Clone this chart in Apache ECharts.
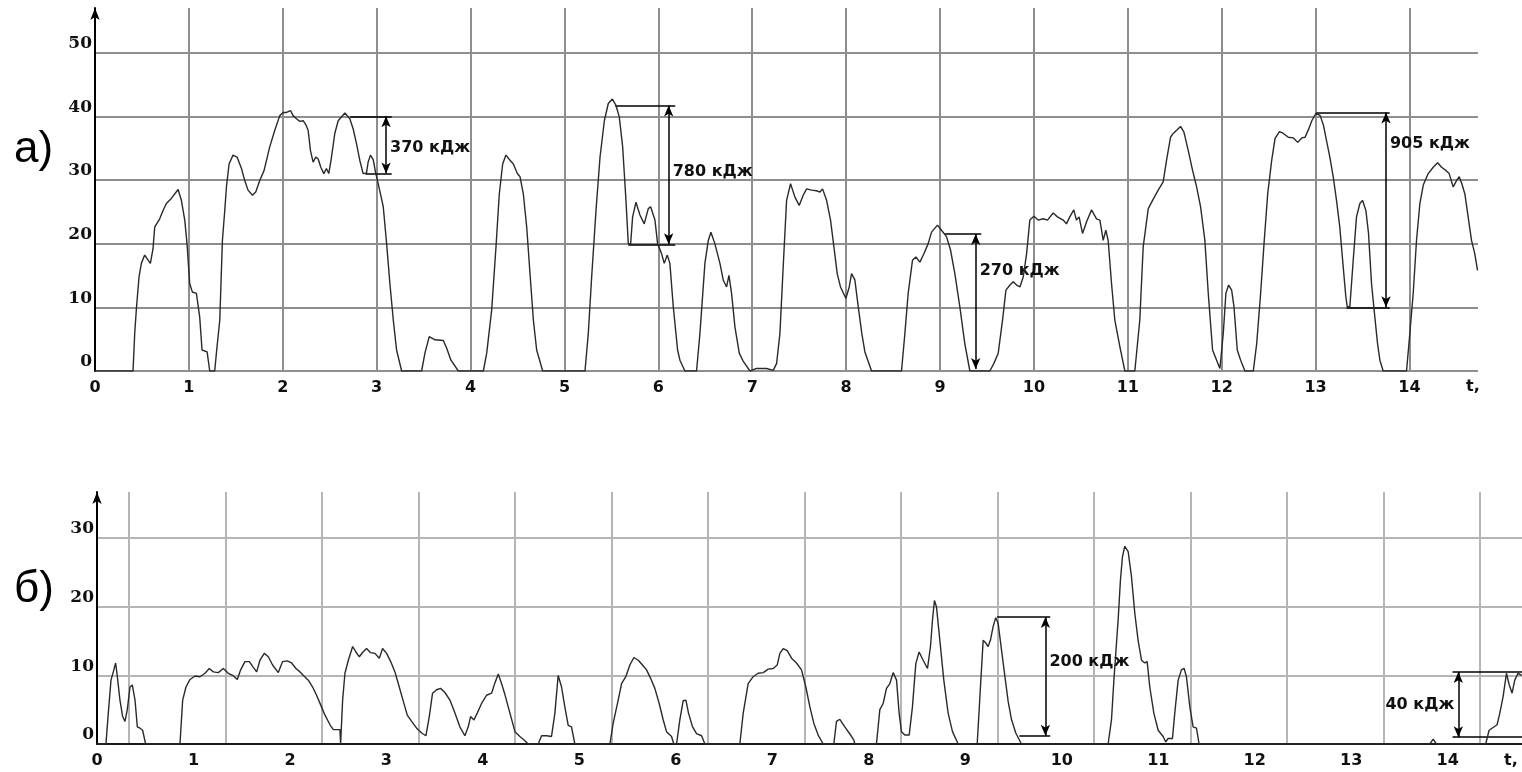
<!DOCTYPE html>
<html>
<head>
<meta charset="utf-8">
<script src="https://cdn.jsdelivr.net/npm/echarts@6/dist/echarts.min.js"></script>
<style>
html,body{margin:0;padding:0;background:#fff;}
#chart{width:1522px;height:772px;}
</style>
</head>
<body>
<div id="chart"></div>
<script>
// ---- data ----
const timeTicks = [0,1,2,3,4,5,6,7,8,9,10,11,12,13,14];
const topValueTicks = [0,10,20,30,40,50];
const bottomValueTicks = [0,10,20,30];
const panelLabels = ['a)', 'б)'];
const timeUnitLabel = 't,';

// panel a) curve: [t, value]
const topCurve = [[0,0],[0.405,0],[0.423,5.9],[0.44,9.6],[0.469,14.8],[0.494,16.9],[0.529,18.2],[0.59,16.9],[0.618,19.2],[0.636,22.6],[0.689,23.9],[0.725,25.2],[0.76,26.3],[0.813,27.1],[0.885,28.5],[0.92,26.8],[0.956,23.7],[0.98,20.0],[1.009,13.7],[1.037,12.4],[1.08,12.2],[1.115,8.5],[1.14,3.3],[1.194,3.0],[1.222,0],[1.275,0],[1.293,2.8],[1.329,8.0],[1.357,20.5],[1.382,25.2],[1.4,28.9],[1.428,32.5],[1.47,33.9],[1.513,33.6],[1.56,31.8],[1.595,29.9],[1.63,28.4],[1.677,27.6],[1.712,28.1],[1.755,29.9],[1.801,31.5],[1.861,35.2],[1.915,37.8],[1.968,40.1],[2.004,40.6],[2.04,40.6],[2.082,40.9],[2.11,40.1],[2.146,39.6],[2.181,39.2],[2.217,39.3],[2.245,38.7],[2.27,37.8],[2.295,34.6],[2.323,32.8],[2.352,33.6],[2.377,33.3],[2.405,32.0],[2.437,31.0],[2.465,31.8],[2.49,31.0],[2.519,33.6],[2.554,37.3],[2.59,39.3],[2.661,40.5],[2.714,39.6],[2.75,38.0],[2.785,35.7],[2.82,33.1],[2.856,31.0],[2.892,31.1],[2.909,32.8],[2.934,33.9],[2.963,33.2],[2.988,31.2],[3.009,29.9],[3.07,25.8],[3.106,20.0],[3.141,13.7],[3.177,8.0],[3.212,3.3],[3.266,0],[3.479,0],[3.514,2.8],[3.56,5.4],[3.621,4.9],[3.71,4.8],[3.745,3.6],[3.791,1.7],[3.87,0],[4.136,0],[4.172,2.8],[4.225,9.6],[4.271,19.5],[4.306,27.8],[4.342,32.5],[4.377,33.9],[4.42,33.1],[4.456,32.5],[4.498,31.0],[4.527,30.5],[4.562,27.8],[4.598,22.6],[4.633,15.3],[4.669,8.0],[4.704,3.3],[4.768,0],[5.219,0],[5.254,5.9],[5.29,14.8],[5.336,25.2],[5.379,33.6],[5.425,39.3],[5.467,42.0],[5.51,42.7],[5.549,41.7],[5.584,39.9],[5.62,35.2],[5.655,26.8],[5.68,20.0],[5.705,20.0],[5.726,24.2],[5.762,26.5],[5.804,24.5],[5.85,23.1],[5.893,25.5],[5.918,25.8],[5.964,23.7],[5.992,20.0],[6.035,18.4],[6.063,16.9],[6.095,18.2],[6.123,16.9],[6.159,10.1],[6.205,3.3],[6.23,1.7],[6.283,0],[6.407,0],[6.443,5.9],[6.496,16.9],[6.532,20.5],[6.56,21.8],[6.602,20.0],[6.656,16.9],[6.691,14.3],[6.727,13.2],[6.752,15.0],[6.78,12.2],[6.816,6.9],[6.862,2.8],[6.905,1.5],[6.976,0],[7.046,0.4],[7.153,0.4],[7.224,0.1],[7.26,1.2],[7.295,5.9],[7.33,16.4],[7.366,26.8],[7.408,29.4],[7.455,27.3],[7.5,26.0],[7.543,27.6],[7.579,28.6],[7.632,28.4],[7.685,28.3],[7.721,28.1],[7.749,28.6],[7.792,26.8],[7.834,23.7],[7.87,19.5],[7.905,15.3],[7.94,13.2],[7.998,11.4],[8.033,13.2],[8.058,15.3],[8.093,14.3],[8.129,10.1],[8.167,5.9],[8.2,3.0],[8.271,0],[8.59,0],[8.626,5.9],[8.661,12.2],[8.707,17.4],[8.743,17.9],[8.786,17.1],[8.828,18.4],[8.874,20.0],[8.91,21.8],[8.973,22.9],[9.016,22.1],[9.069,21.1],[9.112,19.0],[9.158,15.3],[9.211,10.1],[9.264,4.3],[9.318,0],[9.531,0],[9.574,1.2],[9.62,2.8],[9.666,8.0],[9.702,12.7],[9.745,13.5],[9.78,14.0],[9.816,13.5],[9.851,13.2],[9.887,14.8],[9.922,18.4],[9.957,23.7],[10.0,24.3],[10.046,23.7],[10.099,23.9],[10.145,23.7],[10.205,24.8],[10.251,24.2],[10.312,23.7],[10.347,23.1],[10.382,24.2],[10.425,25.3],[10.453,23.7],[10.481,24.2],[10.518,21.6],[10.56,23.4],[10.614,25.3],[10.667,23.9],[10.703,23.7],[10.738,20.5],[10.766,22.1],[10.791,20.5],[10.827,13.7],[10.862,8.0],[10.916,3.8],[10.969,0],[11.075,0],[11.128,8.0],[11.164,19.5],[11.218,25.5],[11.271,27.0],[11.324,28.4],[11.377,29.7],[11.413,33.1],[11.455,36.7],[11.484,37.3],[11.52,37.8],[11.562,38.4],[11.598,37.5],[11.644,34.6],[11.69,31.5],[11.733,28.9],[11.775,25.8],[11.821,20.5],[11.857,12.2],[11.903,3.3],[11.946,1.7],[11.981,0.4],[12.017,5.9],[12.045,12.2],[12.074,13.5],[12.106,12.7],[12.131,10.1],[12.166,3.3],[12.202,1.7],[12.248,0],[12.337,0],[12.373,4.3],[12.415,12.2],[12.451,20.0],[12.49,27.8],[12.533,33.1],[12.568,36.5],[12.615,37.6],[12.657,37.3],[12.71,36.7],[12.764,36.6],[12.81,35.9],[12.853,36.6],[12.888,36.7],[12.924,37.9],[12.96,39.3],[13.006,40.5],[13.049,40.1],[13.084,38.6],[13.116,36.2],[13.152,33.6],[13.188,30.5],[13.223,26.8],[13.258,22.6],[13.294,16.4],[13.322,11.7],[13.337,10.1],[13.365,10.1],[13.401,17.4],[13.436,24.2],[13.472,26.3],[13.5,26.8],[13.536,25.2],[13.564,21.6],[13.596,13.7],[13.631,8.5],[13.66,4.3],[13.685,1.7],[13.72,0],[13.969,0],[14.004,5.9],[14.04,12.2],[14.075,20.5],[14.111,26.3],[14.147,29.2],[14.2,31.0],[14.253,32.0],[14.3,32.7],[14.342,32.0],[14.388,31.5],[14.423,31.0],[14.466,28.9],[14.501,29.9],[14.53,30.5],[14.558,29.4],[14.59,27.8],[14.625,24.2],[14.661,20.5],[14.696,18.4],[14.725,15.8]];

// panel б) curve: [t, value]
const bottomCurve = [[0,0],[0.093,0],[0.117,4.5],[0.145,9.3],[0.169,10.5],[0.193,11.8],[0.211,9.8],[0.238,6.4],[0.266,4.0],[0.29,3.3],[0.314,5.0],[0.342,8.3],[0.366,8.6],[0.394,6.4],[0.418,2.5],[0.446,2.3],[0.473,2.0],[0.504,0],[0.86,0],[0.888,6.4],[0.922,8.3],[0.964,9.4],[1.016,9.9],[1.067,9.8],[1.119,10.3],[1.164,11.0],[1.206,10.5],[1.257,10.4],[1.309,11.0],[1.361,10.3],[1.406,10.0],[1.454,9.4],[1.489,10.8],[1.533,12.0],[1.579,12.0],[1.613,11.3],[1.655,10.5],[1.689,12.2],[1.734,13.2],[1.776,12.7],[1.82,11.5],[1.879,10.4],[1.924,12.0],[1.972,12.1],[2.017,11.8],[2.062,11.0],[2.104,10.5],[2.145,9.9],[2.19,9.3],[2.235,8.3],[2.276,7.1],[2.318,5.7],[2.363,4.2],[2.415,2.8],[2.449,2.1],[2.518,2.1],[2.525,0],[2.535,0],[2.546,6.4],[2.57,10.3],[2.605,12.2],[2.65,14.2],[2.684,13.4],[2.719,12.7],[2.757,13.4],[2.794,13.9],[2.836,13.3],[2.881,13.2],[2.926,12.5],[2.96,13.9],[3.002,13.2],[3.044,12.0],[3.088,10.5],[3.133,8.3],[3.175,6.2],[3.216,4.2],[3.261,3.3],[3.313,2.3],[3.365,1.6],[3.409,1.2],[3.444,4.0],[3.478,7.4],[3.52,7.9],[3.561,8.1],[3.606,7.5],[3.658,6.4],[3.71,4.5],[3.761,2.5],[3.813,1.2],[3.848,2.5],[3.872,4.0],[3.907,3.5],[3.941,4.5],[3.986,5.9],[4.038,7.1],[4.09,7.4],[4.124,8.9],[4.159,10.2],[4.193,8.8],[4.228,7.2],[4.28,4.5],[4.332,1.8],[4.383,1.1],[4.418,0.7],[4.47,0],[4.573,0],[4.608,1.2],[4.66,1.2],[4.711,1.1],[4.746,4.5],[4.78,10.0],[4.815,8.3],[4.849,5.4],[4.884,2.7],[4.918,2.5],[4.953,0],[5.316,0],[5.35,3.0],[5.402,6.4],[5.437,8.8],[5.481,9.8],[5.523,11.5],[5.565,12.6],[5.61,12.2],[5.654,11.5],[5.696,10.8],[5.737,9.6],[5.782,8.1],[5.827,5.9],[5.869,3.5],[5.903,1.8],[5.955,1.1],[5.979,0],[6.007,0],[6.041,3.5],[6.076,6.3],[6.104,6.4],[6.131,4.5],[6.173,2.5],[6.214,1.5],[6.266,1.2],[6.301,0],[6.663,0],[6.698,4.5],[6.749,8.8],[6.801,9.8],[6.853,10.3],[6.905,10.4],[6.957,10.9],[7.009,11.0],[7.05,11.5],[7.078,13.2],[7.112,13.9],[7.154,13.6],[7.199,12.5],[7.25,11.8],[7.302,10.8],[7.347,8.3],[7.389,5.4],[7.43,3.0],[7.475,1.3],[7.527,0],[7.637,0],[7.665,3.3],[7.699,3.6],[7.751,2.5],[7.796,1.6],[7.844,0.6],[7.855,0],[8.079,0],[8.114,5.0],[8.148,5.9],[8.183,8.1],[8.218,8.8],[8.252,10.4],[8.287,9.3],[8.314,4.5],[8.338,1.8],[8.373,1.3],[8.418,1.3],[8.452,5.4],[8.487,11.7],[8.521,13.4],[8.563,12.2],[8.608,11.0],[8.639,14.2],[8.66,18.1],[8.68,20.9],[8.701,20.0],[8.736,15.1],[8.777,9.3],[8.822,4.5],[8.867,1.8],[8.926,0],[9.123,0],[9.157,8.3],[9.185,15.1],[9.212,14.7],[9.236,14.2],[9.26,15.1],[9.288,17.1],[9.315,18.4],[9.34,17.6],[9.375,13.7],[9.409,10.0],[9.444,6.2],[9.478,3.6],[9.523,1.6],[9.582,0],[10.48,0],[10.515,3.5],[10.54,9.3],[10.584,18.1],[10.608,23.9],[10.629,27.3],[10.653,28.8],[10.688,28.0],[10.722,24.4],[10.757,19.0],[10.791,15.1],[10.826,12.2],[10.861,11.8],[10.885,12.0],[10.912,8.3],[10.954,4.5],[10.999,2.0],[11.05,1.1],[11.078,0.3],[11.102,0.8],[11.147,0.8],[11.171,4.5],[11.206,9.3],[11.24,10.8],[11.268,11.0],[11.292,9.8],[11.327,5.4],[11.361,2.5],[11.396,2.3],[11.423,0],[13.814,0],[13.849,0.7],[13.883,0],[14.394,0],[14.429,2.0],[14.47,2.4],[14.512,2.8],[14.54,4.5],[14.574,6.9],[14.609,10.3],[14.636,8.7],[14.667,7.4],[14.695,9.3],[14.729,10.3],[14.767,10.0]];

// energy annotations (data units)
const topAnnotations = [
  {text:'370 кДж', arrowX:3.10, top:40.0, bottom:31.0, topFrom:2.72, bottomFrom:2.88, to:3.16, textY:35.1, side:'right'},
  {text:'780 кДж', arrowX:6.11, top:41.7, bottom:19.9, topFrom:5.54, bottomFrom:5.68, to:6.18, textY:31.2, side:'right'},
  {text:'270 кДж', arrowX:9.38, top:21.5, bottom:0.3, topFrom:9.05, bottomFrom:null, to:9.44, textY:15.8, side:'right'},
  {text:'905 кДж', arrowX:13.75, top:40.6, bottom:10.0, topFrom:13.01, bottomFrom:13.33, to:13.79, textY:35.7, side:'right'}
];
const bottomAnnotations = [
  {text:'200 кДж', arrowX:9.83, top:18.5, bottom:1.2, topFrom:9.33, bottomFrom:9.56, to:9.88, textY:12.0, side:'right'},
  {text:'40 кДж', arrowX:14.11, top:10.5, bottom:1.0, topFrom:14.05, bottomFrom:14.05, to:14.77, textY:5.7, side:'left'}
];

// ---- chart ----
const chart = echarts.init(document.getElementById('chart'), null, {renderer:'canvas'});

const axisLabelFont = {fontFamily:'DejaVu Sans', fontWeight:'bold', fontSize:16, color:'#111'};
const yLabelFont = {fontFamily:'DejaVu Serif', fontWeight:'bold', fontSize:17, color:'#111'};
const annFont = {fontFamily:'DejaVu Sans', fontWeight:'bold', fontSize:16, color:'#111'};

function annotationLines(list){
  const out = [];
  list.forEach(a => {
    out.push([{coord:[a.topFrom, a.top], symbol:'none'}, {coord:[a.to, a.top], symbol:'none'}]);
    if (a.bottomFrom !== null) {
      out.push([{coord:[a.bottomFrom, a.bottom], symbol:'none'}, {coord:[a.to, a.bottom], symbol:'none'}]);
    }
    out.push([{coord:[a.arrowX, a.bottom], symbol:'arrow', symbolSize:[7,11]},
              {coord:[a.arrowX, a.top], symbol:'arrow', symbolSize:[7,11]}]);
  });
  return out;
}
function annotationTexts(list){
  return list.map(a => ({
    coord:[a.arrowX, a.textY],
    symbol:'circle', symbolSize:0,
    label:{show:true, position:a.side, distance:4, formatter:a.text, ...annFont}
  }));
}

function tickFormatter(ticks){
  return v => ticks.indexOf(Math.round(v*1000)/1000) >= 0 ? String(v) : '';
}

const option = {
  animation:false,
  backgroundColor:'#fff',
  grid:[
    {left:95, top:8, width:1383, height:363},
    {left:97, top:492, width:1425, height:252},
    // vertical grid of panel б) is shifted by a third of a time unit
    {left:129, top:492, width:1393, height:252}
  ],
  xAxis:[
    {gridIndex:0, type:'value', min:0, max:14.73, interval:1,
     axisLine:{show:false}, axisTick:{show:false},
     axisLabel:{...axisLabelFont, margin:9, showMaxLabel:false, formatter:tickFormatter(timeTicks)},
     splitLine:{show:true, showMinLine:false, showMaxLine:false, lineStyle:{color:'#8e8e8e', width:2}}},
    {gridIndex:1, type:'value', min:0, max:14.77, interval:1,
     axisLine:{show:true, onZero:false, lineStyle:{color:'#1a1a1a', width:2}}, axisTick:{show:false},
     axisLabel:{...axisLabelFont, margin:9, showMaxLabel:false, formatter:tickFormatter(timeTicks)},
     splitLine:{show:false}},
    {gridIndex:2, type:'value', min:0, max:14.435, interval:1,
     axisLine:{show:false}, axisTick:{show:false}, axisLabel:{show:false},
     splitLine:{show:true, showMinLine:true, showMaxLine:false, lineStyle:{color:'#b5b5b5', width:2}}}
  ],
  yAxis:[
    {gridIndex:0, type:'value', min:0, max:57, interval:10,
     axisLine:{show:true, onZero:false, symbol:['none','arrow'], symbolSize:[7,12], lineStyle:{color:'#000', width:2}},
     axisTick:{show:false},
     axisLabel:{...yLabelFont, margin:3, verticalAlign:'bottom', lineHeight:18, showMaxLabel:false, formatter:tickFormatter(topValueTicks)},
     splitLine:{show:true, showMaxLine:false, lineStyle:{color:'#8e8e8e', width:2}}},
    {gridIndex:1, type:'value', min:0, max:36.7, interval:10,
     axisLine:{show:true, onZero:false, symbol:['none','arrow'], symbolSize:[7,12], lineStyle:{color:'#000', width:2}},
     axisTick:{show:false},
     axisLabel:{...yLabelFont, margin:3, verticalAlign:'bottom', lineHeight:18, showMaxLabel:false, formatter:tickFormatter(bottomValueTicks)},
     splitLine:{show:true, showMaxLine:false, lineStyle:{color:'#b5b5b5', width:2}}},
    {gridIndex:2, type:'value', min:0, max:1, show:false, splitLine:{show:false}}
  ],
  series:[
    {type:'line', xAxisIndex:0, yAxisIndex:0, data:topCurve, showSymbol:false, symbol:'none',
     lineStyle:{color:'#2a2a2a', width:1.4}, z:5,
     markLine:{silent:true, symbol:'none', label:{show:false}, lineStyle:{color:'#000', width:1.5, type:'solid'},
               data:annotationLines(topAnnotations)},
     markPoint:{silent:true, data:annotationTexts(topAnnotations)}},
    {type:'line', xAxisIndex:1, yAxisIndex:1, data:bottomCurve, showSymbol:false, symbol:'none',
     lineStyle:{color:'#2a2a2a', width:1.4}, z:5,
     markLine:{silent:true, symbol:'none', label:{show:false}, lineStyle:{color:'#000', width:1.5, type:'solid'},
               data:annotationLines(bottomAnnotations)},
     markPoint:{silent:true, data:annotationTexts(bottomAnnotations)}}
  ],
  graphic:[
    {type:'text', left:14, top:128, style:{text:panelLabels[0], font:'44px "Liberation Sans"', fill:'#000'}},
    {type:'text', left:14, top:568, style:{text:panelLabels[1], font:'44px "Liberation Sans"', fill:'#000'}},
    {type:'text', left:1466, top:379, style:{text:timeUnitLabel, font:'bold 16px "DejaVu Sans"', fill:'#111'}},
    {type:'text', left:1504, top:753, style:{text:timeUnitLabel, font:'bold 16px "DejaVu Sans"', fill:'#111'}}
  ]
};
chart.setOption(option);
</script>
</body>
</html>
